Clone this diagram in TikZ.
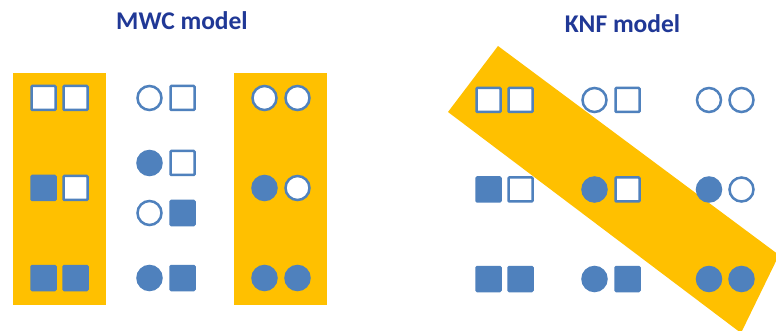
\documentclass[tikz,border=0pt]{standalone}
\usepackage{fontspec}
\setmainfont{Carlito}
\definecolor{gold}{HTML}{FFC000}
\definecolor{shapeblue}{HTML}{4F81BD}
\definecolor{titleblue}{RGB}{32,56,150}
\begin{document}
\begin{tikzpicture}[x=1pt,y=-1pt,
  unit/.style={inner sep=0pt,minimum size=24pt,line width=2.5pt,draw=shapeblue},
  osq/.style={unit,rectangle,rounded corners=0.8pt,fill=white},
  fsq/.style={unit,rectangle,rounded corners=0.8pt,fill=shapeblue},
  ocirc/.style={unit,circle,fill=white},
  fcirc/.style={unit,circle,fill=shapeblue},
  heading/.style={font=\fontsize{25.5}{28}\selectfont\bfseries,text=titleblue,inner sep=0pt,anchor=base},
  panel/.style={fill=gold}]
\useasboundingbox (0,0) rectangle (776,331);
\fill[white] (0,0) rectangle (776,331);

% ---- MWC model ----
\node[heading] (mwc) at (182,30) {MWC model};
\fill[panel] (13,73) rectangle (106,305);
\fill[panel] (234,73) rectangle (327,305);

% tense (square) states
\node[osq] (t1a) at (43.5,98) {};  \node[osq] (t1b) at (75.5,98) {};
\node[fsq] (t2a) at (43.5,188) {}; \node[osq] (t2b) at (75.5,188) {};
\node[fsq] (t3a) at (43.5,278) {}; \node[fsq] (t3b) at (75.5,278) {};

% mixed states
\node[ocirc] (m1a) at (149.5,98) {};  \node[osq] (m1b) at (182.5,98) {};
\node[fcirc] (m2a) at (149.5,163) {}; \node[osq] (m2b) at (182.5,163) {};
\node[ocirc] (m3a) at (149.5,213) {}; \node[fsq] (m3b) at (182.5,213) {};
\node[fcirc] (m4a) at (149.5,278) {}; \node[fsq] (m4b) at (182.5,278) {};

% relaxed (circle) states
\node[ocirc] (r1a) at (264.5,98) {};  \node[ocirc] (r1b) at (297.5,98) {};
\node[fcirc] (r2a) at (264.5,188) {}; \node[ocirc] (r2b) at (297.5,188) {};
\node[fcirc] (r3a) at (264.5,278) {}; \node[fcirc] (r3b) at (297.5,278) {};

% ---- KNF model ----
\node[heading] (knf) at (622.5,32.5) {KNF model};
\begin{scope}
  \clip (0,0) rectangle (776,331);
  \fill[panel] (498,46) -- (448,112) -- (741,333) -- (779,255) -- cycle;
\end{scope}

\node[osq] (a1) at (488.5,100) {};  \node[osq] (a2) at (520.5,100) {};
\node[fsq] (b1) at (488.5,189.5) {}; \node[osq] (b2) at (520.5,189.5) {};
\node[fsq] (c1) at (488.5,279) {};  \node[fsq] (c2) at (520.5,279) {};

\node[ocirc] (d1) at (594.5,100) {};  \node[osq] (d2) at (627.5,100) {};
\node[fcirc] (e1) at (594.5,189.5) {}; \node[osq] (e2) at (627.5,189.5) {};
\node[fcirc] (f1) at (594.5,279) {};  \node[fsq] (f2) at (627.5,279) {};

\node[ocirc] (g1) at (709,100) {};  \node[ocirc] (g2) at (741.5,100) {};
\node[fcirc] (h1) at (709,189.5) {}; \node[ocirc] (h2) at (741.5,189.5) {};
\node[fcirc] (k1) at (709,279) {};  \node[fcirc] (k2) at (741.5,279) {};
\end{tikzpicture}
\end{document}
